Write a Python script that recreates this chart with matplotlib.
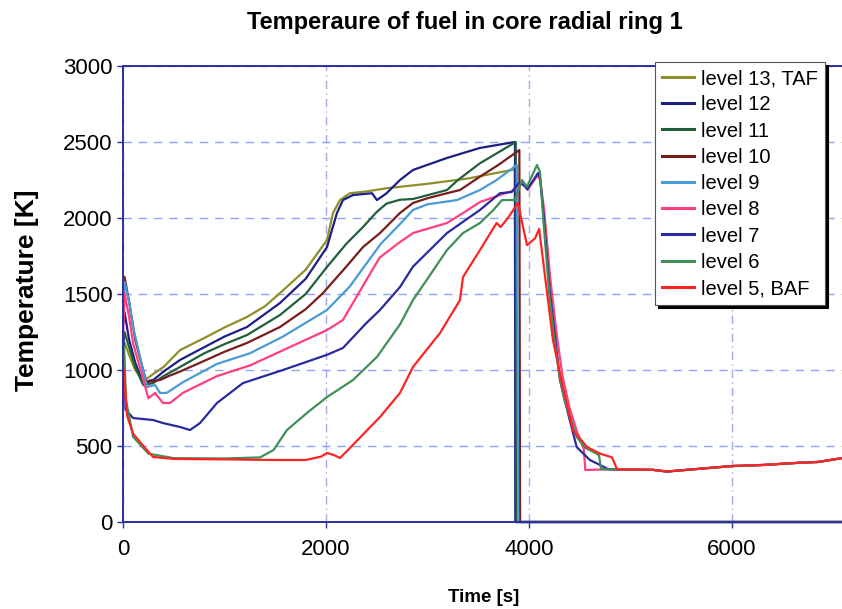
import matplotlib
matplotlib.use("Agg")
import matplotlib.pyplot as plt

plt.rcParams['font.family'] = ['Liberation Sans', 'DejaVu Sans']

# ---- data (time [s], temperature [K]) ----
labels = ["level 13, TAF", "level 12", "level 11", "level 10", "level 9",
          "level 8", "level 7", "level 6", "level 5, BAF"]
colors = ["#8f8f2a", "#1c1f86", "#22603c", "#7a1c1c", "#4a9ad6",
          "#ff3f7f", "#2a2aa0", "#3f8f58", "#ff2424"]

tail_t = [4900, 5000, 5222, 5360, 5500, 6000, 6300, 6670, 6850, 7100]
tail_T = [345, 345, 343, 332, 340, 368, 375, 390, 395, 422]

t_13 = [0, 15, 60, 120, 200, 260, 300, 400, 562, 800, 1000, 1222, 1400, 1547, 1800,
        2010, 2069, 2138, 2236, 2400, 2600, 3000, 3400, 3860, 3868, 7100]
T_13 = [1050, 1180, 1100, 1000, 930, 955, 975, 1020, 1131, 1210, 1280, 1349, 1420, 1506, 1660,
        1855, 2033, 2118, 2163, 2175, 2196, 2225, 2260, 2320, 0, 0]

t_12 = [0, 15, 60, 120, 200, 260, 300, 400, 562, 800, 1000, 1222, 1547, 1800, 2010, 2108,
        2167, 2266, 2453, 2502, 2597, 2729, 2857, 3192, 3517, 3862, 3866, 7100]
T_12 = [1300, 1380, 1200, 1050, 910, 930, 935, 990, 1066, 1150, 1220, 1283, 1441, 1600, 1809, 2033,
        2118, 2151, 2163, 2118, 2163, 2250, 2316, 2395, 2461, 2500, 0, 0]

t_11 = [0, 15, 60, 120, 200, 300, 400, 562, 800, 1000, 1222, 1547, 1800, 2010, 2200, 2365,
        2500, 2597, 2729, 2857, 3000, 3192, 3300, 3517, 3870, 3876, 7100]
T_11 = [1150, 1250, 1150, 1020, 900, 915, 960, 1020, 1110, 1170, 1230, 1362, 1500, 1678, 1830, 1941,
        2040, 2095, 2120, 2125, 2150, 2184, 2250, 2360, 2500, 0, 0]

t_10 = [0, 15, 60, 120, 230, 365, 450, 562, 800, 1000, 1222, 1547, 1800, 1970, 2200, 2365,
        2532, 2729, 2857, 3000, 3192, 3320, 3517, 3700, 3905, 3912, 7100]
T_10 = [1450, 1612, 1450, 1200, 920, 934, 960, 990, 1060, 1120, 1178, 1283, 1400, 1506, 1680, 1809,
        1901, 2033, 2099, 2130, 2163, 2184, 2272, 2350, 2447, 0, 0]

t_9 = [0, 15, 60, 99, 236, 315, 365, 430, 591, 926, 1251, 1576, 2010, 2230, 2540, 2729,
       2857, 3000, 3290, 3517, 3681, 3881, 3895, 7100]
T_9 = [1350, 1579, 1450, 1283, 888, 901, 849, 849, 920, 1040, 1110, 1220, 1395, 1546, 1830, 1960,
       2053, 2090, 2118, 2184, 2250, 2349, 0, 0]

t_8 = [0, 15, 60, 99, 250, 315, 394, 463, 591, 926, 1251, 1576, 2010, 2167, 2398, 2529,
       2729, 2857, 3192, 3350, 3517, 3714, 3845, 3930, 3950, 3985, 4085, 4110, 4150, 4210,
       4270, 4330, 4400, 4470, 4540, 4555, 4700, 4870] + tail_t
T_8 = [1200, 1506, 1350, 1178, 814, 849, 783, 783, 850, 960, 1030, 1130, 1263, 1329, 1592, 1740,
       1842, 1901, 1967, 2033, 2105, 2151, 2180, 2240, 2220, 2185, 2280, 2250, 2050, 1600,
       1250, 960, 750, 600, 480, 342, 345, 345] + tail_T

t_7 = [0, 10, 25, 99, 296, 394, 562, 660, 759, 926, 1182, 1576, 2010, 2167, 2398, 2532,
       2729, 2857, 3192, 3517, 3714, 3830, 3900, 3950, 3985, 4089, 4110, 4140, 4200, 4260,
       4305, 4384, 4470, 4600, 4700, 4780] + tail_t
T_7 = [1250, 1100, 740, 684, 671, 651, 625, 605, 651, 783, 914, 1000, 1100, 1145, 1309, 1395,
       1546, 1680, 1901, 2053, 2163, 2171, 2230, 2215, 2190, 2296, 2260, 2050, 1550, 1200,
       934, 717, 493, 408, 375, 348] + tail_T

t_6 = [0, 10, 30, 100, 250, 500, 1000, 1350, 1484, 1615, 1812, 2010, 2266, 2502, 2729,
       2857, 3192, 3350, 3517, 3650, 3734, 3862, 3931, 3980, 4079, 4108, 4140, 4200, 4250,
       4300, 4350, 4400, 4470, 4550, 4650, 4690, 4710] + tail_t
T_6 = [1100, 1150, 800, 560, 450, 420, 418, 425, 474, 605, 717, 822, 934, 1086, 1300,
       1460, 1789, 1901, 1967, 2053, 2118, 2118, 2250, 2206, 2349, 2303, 2000, 1500, 1200,
       960, 800, 700, 560, 490, 455, 440, 348] + tail_T

t_5 = [0, 10, 40, 100, 200, 296, 500, 1000, 1500, 1800, 1950, 2010, 2080, 2138, 2217,
       2532, 2729, 2857, 3123, 3320, 3350, 3517, 3600, 3681, 3720, 3800, 3891, 3980, 4060,
       4100, 4138, 4236, 4330, 4433, 4571, 4700, 4818, 4867] + tail_t
T_5 = [780, 1000, 700, 580, 500, 428, 415, 412, 408, 408, 430, 454, 440, 421, 474,
       691, 849, 1020, 1243, 1460, 1612, 1789, 1880, 1967, 1940, 2007, 2099, 1822, 1866,
       1928, 1724, 1197, 900, 605, 493, 450, 425, 349] + tail_T

series_t = [t_13, t_12, t_11, t_10, t_9, t_8, t_7, t_6, t_5]
series_T = [T_13, T_12, T_11, T_10, T_9, T_8, T_7, T_6, T_5]

x_ticks = [0, 2000, 4000, 6000]
y_ticks = [0, 500, 1000, 1500, 2000, 2500, 3000]

# ---- figure ----
W, H = 842, 609
fig = plt.figure(figsize=(W / 100, H / 100), dpi=100)
ax = fig.add_axes([123 / W, 87 / H, (W - 123) / W, 456 / H])

for t, T, c, lab in zip(series_t, series_T, colors, labels):
    ax.plot(t, T, color=c, lw=1.6, label=lab, clip_on=False, solid_joinstyle='round')

ax.set_xlim(0, 7084)
ax.set_ylim(0, 3000)
ax.set_xticks(x_ticks)
ax.set_yticks(y_ticks)

ax.grid(axis='y', color='#8fa3f0', linestyle=(0, (6, 5)), lw=1.0)
ax.grid(axis='x', color='#a8a8e6', linestyle=(0, (6, 3, 1, 3)), lw=1.0)
ax.set_axisbelow(True)

spine_c = '#2c2f9e'
for s in ['left', 'bottom', 'top']:
    ax.spines[s].set_color(spine_c)
    ax.spines[s].set_linewidth(1.4)
ax.spines['right'].set_visible(False)
ax.tick_params(axis='both', colors=spine_c, labelcolor='black', labelsize=16,
               direction='out', length=4, width=1)
ax.tick_params(axis='x', pad=8)

fig.text(465 / W, 1 - 23 / H, "Temperaure of fuel in core radial ring 1",
         ha='center', va='center', fontsize=17, fontweight='bold')
fig.text(27 / W, 1 - 290 / H, "Temperature [K]", rotation=90,
         ha='center', va='center', fontsize=19, fontweight='bold')
fig.text(484 / W, 1 - 597 / H, "Time [s]", ha='center', va='center',
         fontsize=13.5, fontweight='bold')

leg = ax.legend(loc='upper left', bbox_to_anchor=(655 / W, 1 - 62 / H),
                bbox_transform=fig.transFigure, borderaxespad=0,
                fontsize=14.5, frameon=True, fancybox=False,
                handlelength=1.6, handletextpad=0.35, labelspacing=0.36,
                borderpad=0.35, shadow={'color': 'black', 'alpha': 1.0})
leg.get_frame().set_edgecolor('#555555')
leg.get_frame().set_linewidth(0.8)
for line in leg.get_lines():
    line.set_linewidth(2.2)

fig.savefig("out.png", dpi=100)
